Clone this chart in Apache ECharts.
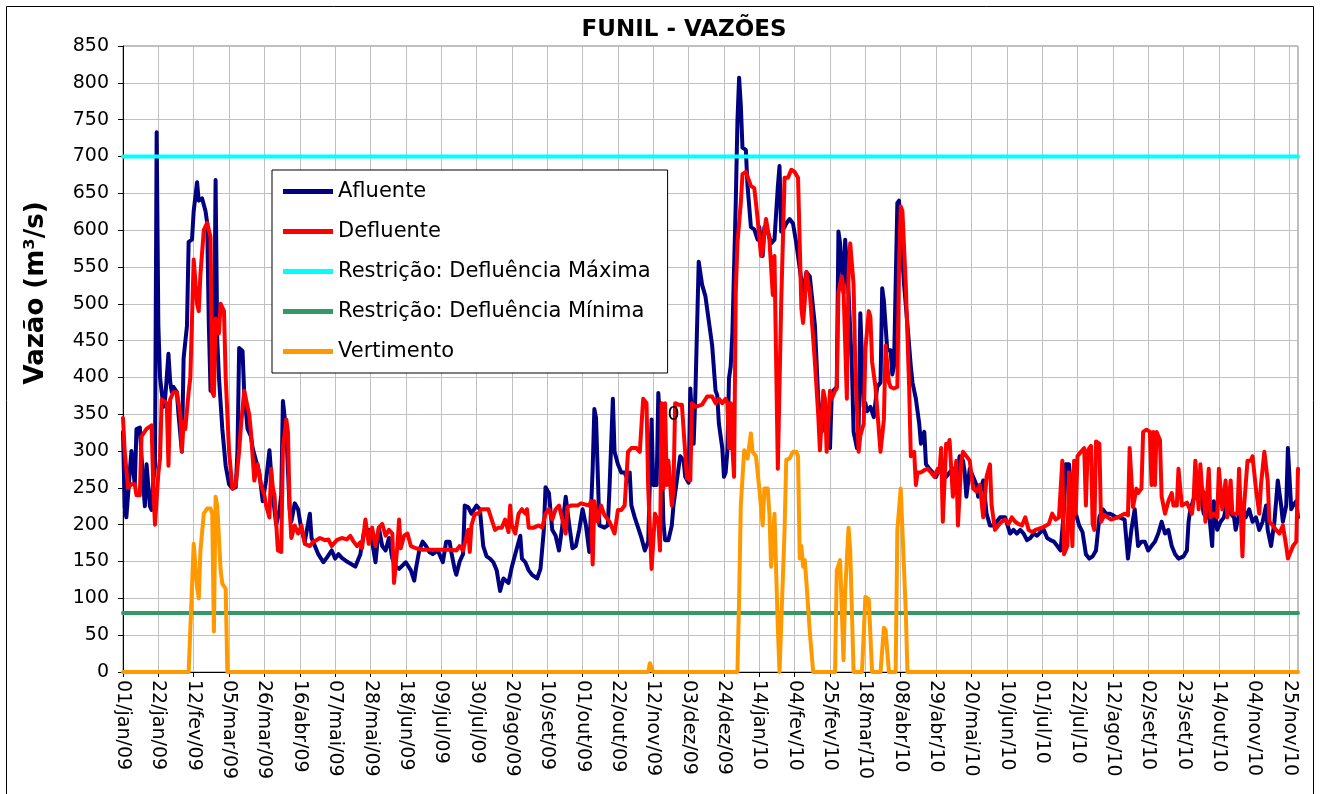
<!DOCTYPE html>
<html>
<head>
<meta charset="utf-8">
<title>FUNIL - VAZÕES</title>
<script src="https://cdn.jsdelivr.net/npm/echarts@6/dist/echarts.min.js"></script>
<style>
  html, body { margin: 0; padding: 0; background: #fff; }
  #chart { width: 1320px; height: 794px; }
</style>
</head>
<body>
<div id="chart"></div>
<script>
// eixo x = dias contados a partir de 01/jan/09, rótulos a cada 21 dias
const meses = ['jan', 'fev', 'mar', 'abr', 'mai', 'jun', 'jul', 'ago', 'set', 'out', 'nov', 'dez']
const passoRotulo = 21
const ultimoDia = 698

const defluenciaMaxima = 700
const defluenciaMinima = 80

// rótulo "0" solto no gráfico original
const rotuloZero = [327, 349]

const afluente = [
  [0,326],[1,224],[2,210],[4,271],[5,300],[6,301],[7,254],[8,330],[10,332],[12,254],[13,225],[14,282],[15,280],[16,225],[17,220],[18,260],[19,280],
  [20,733],[21,471],[22,400],[23,380],[24,360],[25,371],[26,400],[27,432],[28,395],[29,380],[30,387],[32,380],[33,349],[35,299],[36,426],[37,426],[38,470],
  [39,584],[41,587],[42,626],[44,665],[45,640],[47,643],[49,626],[50,610],[51,471],[52,382],[54,400],[55,668],[56,450],[57,400],[59,330],[61,280],[63,255],
  [65,249],[67,251],[68,300],[69,440],[71,436],[72,380],[74,330],[76,320],[77,304],[79,287],[81,270],[83,232],[85,260],[87,301],[88,270],[89,240],[91,200],
  [93,220],[94,240],[95,368],[97,326],[99,221],[100,204],[102,229],[104,221],[106,193],[108,177],[111,215],[112,182],[114,171],[116,160],[119,149],[121,155],
  [124,165],[126,154],[128,160],[130,155],[133,150],[136,146],[138,143],[141,160],[143,188],[146,193],[148,177],[150,149],[152,196],[154,171],[156,165],
  [158,182],[160,154],[162,143],[164,140],[168,149],[171,138],[173,124],[174,140],[176,165],[178,177],[180,171],[182,163],[184,160],[187,165],[190,149],
  [192,177],[194,177],[195,163],[197,140],[198,132],[200,150],[202,160],[203,226],[205,224],[207,215],[210,226],[212,221],[214,171],[216,157],[218,154],
  [220,149],[222,138],[224,110],[226,127],[229,121],[231,143],[233,160],[236,185],[237,154],[239,149],[241,138],[243,132],[246,127],[248,140],[250,193],
  [251,251],[253,243],[255,193],[257,185],[259,165],[261,199],[263,238],[265,201],[267,168],[269,171],[271,193],[273,221],[275,199],[277,163],[279,276],
  [280,357],[281,345],[283,199],[286,196],[288,199],[289,249],[291,371],[292,299],[294,282],[296,271],[298,271],[300,260],[301,271],[302,226],[304,210],
  [306,196],[308,182],[310,165],[312,177],[314,343],[315,254],[317,254],[318,379],[320,304],[321,204],[322,179],[324,179],[326,199],[327,226],[329,260],
  [331,293],[333,287],[334,265],[336,257],[337,385],[339,310],[340,376],[342,557],[344,526],[346,510],[350,443],[352,382],[353,376],[354,337],[355,335],
  [356,304],[357,265],[358,271],[359,299],[360,399],[361,415],[362,460],[364,637],[365,748],[366,807],[367,770],[368,712],[370,709],[371,660],[373,604],
  [375,601],[377,587],[378,604],[380,565],[381,604],[383,598],[385,582],[387,587],[389,659],[390,687],[391,598],[393,604],[394,609],[396,615],[398,609],
  [400,582],[402,548],[404,515],[406,543],[408,537],[411,471],[413,371],[415,326],[417,343],[419,349],[420,304],[421,376],[422,382],[424,387],[425,598],
  [426,582],[428,515],[429,587],[430,587],[431,515],[433,415],[434,326],[436,304],[437,332],[438,487],[439,426],[440,360],[441,365],[442,354],[444,360],
  [446,346],[448,387],[450,393],[451,521],[452,504],[454,437],[456,437],[457,404],[458,415],[460,637],[461,640],[462,598],[464,526],[466,471],[468,415],
  [469,393],[471,371],[473,337],[474,310],[476,326],[477,282],[479,276],[481,271],[483,265],[485,276],[487,271],[489,265],[491,271],[493,276],[495,260],
  [497,293],[499,287],[500,271],[501,238],[503,276],[505,265],[507,254],[508,238],[511,260],[513,215],[515,199],[517,199],[519,204],[521,210],[524,210],
  [527,188],[529,193],[531,188],[533,193],[535,188],[537,179],[539,182],[541,188],[543,185],[545,190],[547,193],[549,182],[551,179],[553,177],[555,171],
  [557,165],[559,221],[560,282],[562,282],[563,254],[564,221],[566,215],[568,199],[570,190],[572,160],[574,154],[576,157],[578,165],[580,210],[582,221],
  [584,215],[586,215],[588,213],[590,210],[592,210],[595,207],[597,154],[599,193],[601,221],[603,171],[605,177],[607,177],[609,165],[611,171],[613,177],
  [615,188],[617,204],[619,188],[621,193],[623,171],[625,160],[627,154],[630,157],[632,165],[633,204],[634,220],[636,235],[638,240],[640,243],[642,215],
  [644,210],[645,221],[647,171],[648,232],[650,193],[652,204],[654,210],[656,232],[658,215],[660,210],[661,193],[663,215],[665,221],[667,210],[669,221],
  [671,204],[673,210],[675,193],[677,204],[679,226],[680,193],[682,171],[684,204],[686,260],[688,226],[689,204],[691,226],[692,304],[694,221],[695,226],
  [697,232],[698,210]
]

const defluente = [
  [0,345],[1,300],[3,250],[5,255],[7,255],[8,240],[10,240],[11,320],[14,330],[17,335],[18,250],[19,200],[21,270],[22,290],[23,370],[26,365],[27,280],
  [28,370],[30,380],[32,380],[34,350],[35,300],[36,340],[37,330],[39,380],[40,400],[42,560],[44,500],[45,490],[46,540],[48,600],[50,610],[52,590],[53,380],
  [54,375],[55,480],[57,460],[58,500],[60,490],[61,400],[63,300],[65,249],[67,254],[69,300],[70,332],[72,382],[74,360],[75,349],[76,326],[78,260],[80,282],
  [82,254],[84,240],[85,226],[87,210],[88,276],[89,250],[90,240],[92,165],[94,163],[95,304],[97,343],[98,326],[99,221],[100,182],[102,199],[104,188],
  [106,199],[108,174],[111,171],[113,177],[115,179],[117,182],[120,179],[122,180],[124,171],[127,179],[130,182],[133,180],[135,185],[137,177],[139,171],
  [141,176],[142,168],[144,207],[146,174],[147,190],[148,196],[150,171],[152,196],[154,201],[156,185],[158,193],[160,188],[161,121],[163,171],[164,207],
  [165,168],[167,185],[169,188],[171,171],[174,168],[178,166],[185,166],[190,166],[195,166],[198,165],[200,171],[202,165],[205,193],[206,163],[207,199],
  [209,215],[211,215],[213,221],[217,221],[219,207],[221,193],[223,196],[225,196],[227,207],[229,190],[230,226],[231,199],[233,188],[235,215],[237,221],
  [239,215],[240,221],[241,196],[244,196],[247,199],[249,196],[251,215],[253,221],[255,207],[257,221],[259,226],[263,188],[264,224],[266,226],[270,226],
  [272,229],[277,226],[278,232],[279,146],[280,232],[282,204],[284,226],[286,213],[289,204],[292,188],[294,220],[296,220],[298,226],[300,299],[302,304],
  [305,304],[307,299],[309,371],[311,365],[312,249],[314,140],[316,215],[318,204],[319,165],[320,365],[321,249],[322,365],[323,254],[324,287],[326,226],
  [327,249],[328,365],[330,363],[332,363],[335,263],[337,260],[338,365],[340,360],[344,363],[347,374],[350,374],[352,365],[354,371],[356,365],[357,368],
  [358,371],[359,365],[360,304],[361,365],[362,304],[363,265],[364,515],[365,582],[367,637],[368,676],[370,679],[371,673],[373,660],[375,657],[376,637],
  [377,615],[379,565],[380,571],[381,598],[382,615],[384,587],[386,512],[387,565],[389,276],[390,274],[391,501],[393,671],[395,671],[397,682],[399,679],
  [401,671],[403,493],[404,474],[405,504],[406,543],[408,515],[411,421],[413,349],[414,301],[416,382],[417,371],[418,299],[420,382],[421,371],[423,382],
  [424,385],[425,515],[427,537],[428,521],[430,371],[431,540],[432,582],[434,526],[435,415],[437,299],[438,321],[440,337],[441,437],[443,490],[444,482],
  [445,421],[447,387],[448,387],[450,299],[451,299],[452,343],[453,443],[455,393],[456,387],[458,385],[460,387],[461,554],[462,632],[463,626],[465,526],
  [467,387],[468,293],[470,299],[471,254],[472,271],[474,271],[476,274],[478,276],[480,271],[482,265],[484,276],[485,271],[486,304],[487,204],[489,310],
  [490,304],[491,315],[493,238],[495,287],[496,199],[498,287],[499,299],[501,293],[503,287],[505,249],[507,245],[509,254],[511,210],[513,265],[515,282],
  [516,226],[518,193],[520,199],[522,204],[524,207],[526,201],[528,210],[530,204],[532,201],[534,199],[536,210],[538,193],[540,190],[542,193],[546,196],
  [550,201],[552,215],[554,207],[556,210],[558,287],[559,160],[561,171],[562,271],[564,171],[565,287],[566,215],[567,293],[569,299],[571,304],[572,226],
  [573,299],[574,304],[575,307],[576,201],[577,193],[578,313],[580,310],[581,204],[583,213],[587,207],[591,210],[595,215],[597,213],[598,304],[600,224],
  [602,249],[603,243],[605,249],[606,326],[608,329],[610,326],[611,254],[612,326],[613,254],[614,326],[616,315],[617,238],[619,215],[621,232],[623,243],
  [624,226],[626,226],[627,276],[629,226],[632,230],[635,215],[636,235],[637,287],[639,221],[640,282],[641,249],[642,243],[643,204],[645,276],[646,210],
  [648,215],[650,210],[651,276],[653,221],[655,260],[656,210],[658,260],[659,215],[662,215],[663,276],[665,157],[666,226],[668,287],[670,287],[671,293],
  [673,249],[675,215],[676,254],[678,299],[680,260],[681,204],[683,199],[685,193],[687,188],[689,199],[691,171],[692,154],[694,165],[695,171],[697,177],
  [698,276]
]

const vertimento = [
  [0,0],[39,0],[42,174],[44,115],[45,100],[46,165],[48,215],[50,222],[52,222],[53,215],[54,55],[55,238],[56,225],[58,138],[59,120],[61,113],[62,0],
  [312,0],[313,12],[315,0],
  [365,0],[366,100],[367,226],[369,301],[371,290],[373,324],[374,299],[376,293],[378,249],[380,199],[381,249],[383,249],[384,215],[385,143],[387,215],
  [389,60],[390,0],[391,0],[393,193],[394,288],[396,290],[398,299],[400,299],[401,293],[402,154],[403,171],[404,143],[405,152],[406,121],[408,54],[410,0],
  [423,0],[424,138],[426,152],[427,150],[428,16],[429,110],[431,196],[432,165],[434,0],[439,0],[441,102],[443,99],[445,0],[450,0],[452,60],[453,57],
  [455,0],[459,0],[460,193],[462,249],[463,249],[465,82],[466,0],[698,0]
]

const fonte = 'DejaVu Sans'

// dia -> "dd/mmm/aa"
const rotuloData = (dia) => {
  if (dia % passoRotulo !== 0) return ''
  const d = new Date(2009, 0, 1 + dia)
  const dd = String(d.getDate()).padStart(2, '0')
  const aa = String(d.getFullYear()).slice(2)
  return dd + '/' + meses[d.getMonth()] + '/' + aa
}

const linha = (nome, dados, cor, extra) => Object.assign({
  name: nome,
  type: 'line',
  data: dados,
  showSymbol: false,
  symbol: 'none',
  lineStyle: { color: cor, width: 4, join: 'round', cap: 'round' },
  itemStyle: { color: cor },
  emphasis: { disabled: true }
}, extra || {})

const chart = echarts.init(document.getElementById('chart'))

chart.setOption({
  animation: false,
  backgroundColor: '#fff',
  title: {
    text: 'FUNIL - VAZÕES',
    left: 684,
    top: 19,
    padding: 0,
    textAlign: 'center',
    textStyle: { fontFamily: fonte, fontSize: 23, fontWeight: 'bold', color: '#000' }
  },
  graphic: [
    {
      type: 'rect',
      shape: { x: 6.5, y: 6.5, width: 1307, height: 820 },
      style: { fill: 'none', stroke: '#000', lineWidth: 1 },
      z: 0
    },
    {
      type: 'text',
      x: 36,
      y: 293,
      rotation: Math.PI / 2,
      style: {
        text: 'Vazão (m³/s)',
        fontFamily: fonte,
        fontSize: 26,
        fontWeight: 'bold',
        fill: '#000',
        align: 'center',
        verticalAlign: 'middle'
      }
    }
  ],
  legend: {
    orient: 'vertical',
    left: 272,
    top: 170,
    padding: [10, 17, 10, 11],
    itemGap: 17,
    itemWidth: 50,
    itemHeight: 5,
    icon: 'rect',
    backgroundColor: '#fff',
    borderColor: '#000',
    borderWidth: 1,
    borderRadius: 0,
    textStyle: { fontFamily: fonte, fontSize: 21, color: '#000', lineHeight: 23 },
    data: ['Afluente', 'Defluente', 'Restrição: Defluência Máxima', 'Restrição: Defluência Mínima', 'Vertimento']
  },
  grid: {
    left: 123,
    top: 46,
    right: 22,
    bottom: 122,
    show: true,
    borderColor: '#808080',
    borderWidth: 1,
    backgroundColor: '#fff'
  },
  xAxis: {
    type: 'value',
    min: 0,
    max: ultimoDia,
    interval: passoRotulo,
    axisLine: { show: true, onZero: false, lineStyle: { color: '#000', width: 1 } },
    axisTick: { show: true, length: 5, lineStyle: { color: '#000' } },
    axisLabel: {
      rotate: -90,
      margin: 8,
      showMaxLabel: false,
      fontFamily: fonte,
      fontSize: 19,
      color: '#000',
      formatter: rotuloData
    },
    splitLine: { show: true, lineStyle: { color: '#c0c0c0', width: 1 } }
  },
  yAxis: {
    type: 'value',
    min: 0,
    max: 850,
    interval: 50,
    axisLine: { show: true, lineStyle: { color: '#000', width: 1 } },
    axisTick: { show: true, length: 5, lineStyle: { color: '#000' } },
    axisLabel: { margin: 14, fontFamily: fonte, fontSize: 19, color: '#000' },
    splitLine: { show: true, lineStyle: { color: '#c0c0c0', width: 1 } }
  },
  series: [
    linha('Afluente', afluente, '#000080'),
    linha('Defluente', defluente, '#ff0000'),
    linha('Restrição: Defluência Máxima', [[0, defluenciaMaxima], [ultimoDia, defluenciaMaxima]], '#00ffff'),
    linha('Restrição: Defluência Mínima', [[0, defluenciaMinima], [ultimoDia, defluenciaMinima]], '#339966'),
    linha('Vertimento', vertimento, '#ff9900', {
      markPoint: {
        symbol: 'circle',
        symbolSize: 1,
        itemStyle: { color: 'rgba(0,0,0,0)' },
        label: { show: true, formatter: '0', position: 'inside', fontFamily: fonte, fontSize: 19, color: '#000' },
        data: [{ coord: rotuloZero }]
      }
    })
  ]
})
</script>
</body>
</html>
